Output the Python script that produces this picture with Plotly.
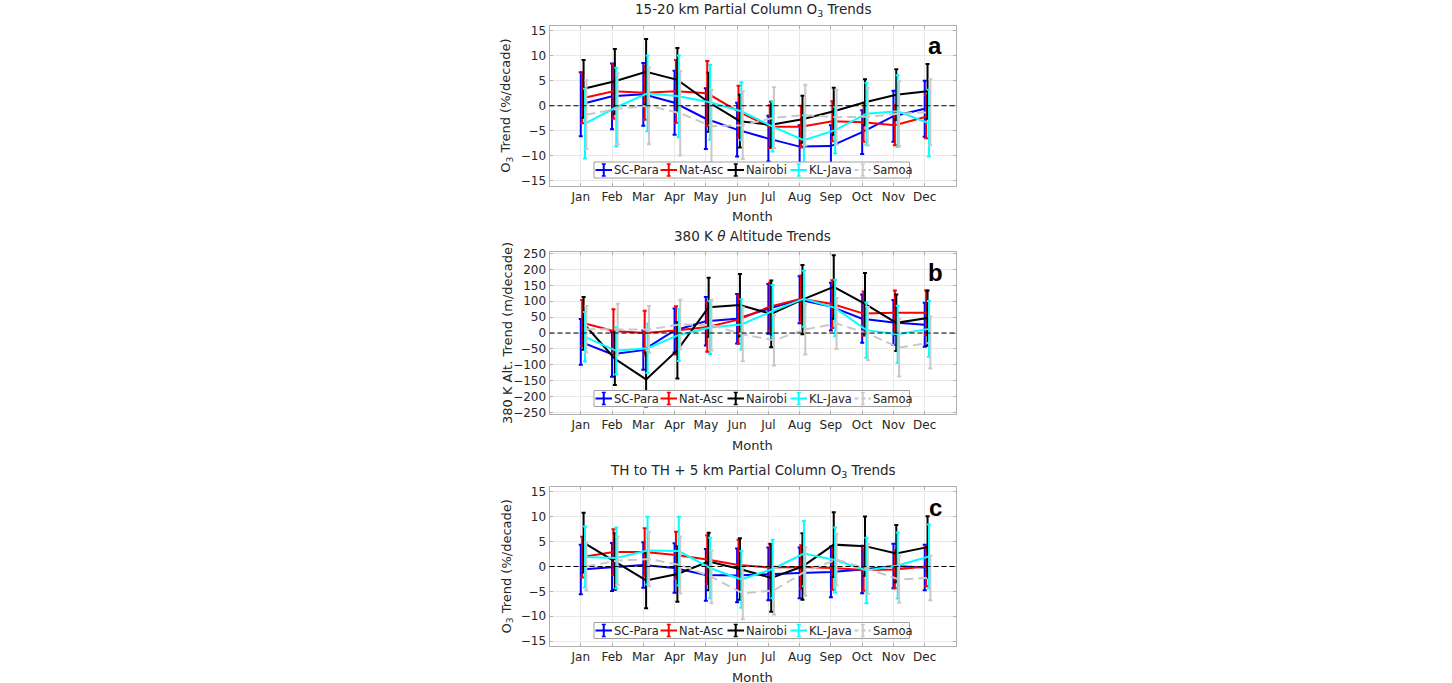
import plotly.graph_objects as go
import numpy as np

months = ["Jan", "Feb", "Mar", "Apr", "May", "Jun", "Jul", "Aug", "Sep", "Oct", "Nov", "Dec"]
stations = ["SC-Para", "Nat-Asc", "Nairobi", "KL-Java", "Samoa"]
colors = ["#0000ff", "#ff0000", "#000000", "#00ffff", "#c8c8c8"]
dashes = ["solid", "solid", "solid", "solid", "9px,5px"]

# Panel a: 15-20 km partial column O3 trends (%/decade) and error half-widths
a_scpara = [0.3, 1.9, 2.3, 0.6, -2.6, -4.8, -6.6, -8.2, -8.1, -5.3, -2.1, -0.6]
a_scpara_err = [6.4, 6.6, 6.3, 6.4, 6.1, 5.4, 4.6, 4.3, 4.2, 4.4, 5.1, 5.6]
a_natasc = [1.5, 2.9, 2.6, 2.9, 2.5, -1.2, -4.2, -4.2, -3.1, -3.3, -3.9, -2.2]
a_natasc_err = [5.0, 5.5, 5.4, 6.3, 6.5, 5.2, 4.3, 4.2, 4.0, 3.9, 4.0, 4.3]
a_nairobi = [3.4, 4.9, 6.8, 5.2, 0.7, -3.1, -3.8, -2.7, -1.1, 0.7, 2.2, 2.9]
a_nairobi_err = [5.8, 6.5, 6.6, 6.4, 5.9, 5.3, 4.6, 4.7, 4.7, 4.6, 5.1, 5.5]
a_kljava = [-3.6, -0.3, 2.5, 1.9, 0.7, -1.1, -4.2, -6.9, -4.9, -1.6, -1.1, -3.5]
a_kljava_err = [7.0, 7.9, 7.6, 8.2, 7.5, 5.8, 5.0, 5.0, 4.7, 6.2, 7.2, 6.7]
a_samoa = [-1.8, -0.6, 0.0, -1.5, -4.1, -3.9, -2.4, -1.9, -2.3, -2.2, -1.6, -1.3]
a_samoa_err = [6.9, 7.1, 7.7, 8.5, 7.3, 6.8, 6.1, 6.1, 5.5, 5.8, 6.5, 6.6]

# Panel b: 380 K theta altitude trends (m/decade)
b_scpara = [-28, -67, -54, 8, 37, 45, 76, 105, 83, 45, 33, 26]
b_scpara_err = [72, 71, 62, 69, 76, 78, 78, 74, 75, 76, 71, 69]
b_natasc = [32, 6, 0, 8, 19, 42, 83, 108, 91, 61, 64, 64]
b_natasc_err = [72, 69, 70, 76, 78, 76, 75, 73, 75, 70, 70, 70]
b_nairobi = [30, -81, -146, -54, 81, 88, 60, 105, 145, 92, 32, 47]
b_nairobi_err = [83, 83, 85, 89, 93, 98, 105, 109, 100, 97, 89, 87]
b_kljava = [-12, -56, -48, -6, 17, 27, 69, 108, 79, 9, -4, 13]
b_kljava_err = [78, 75, 78, 82, 83, 79, 82, 88, 89, 87, 90, 88]
b_samoa = [12, 11, 11, 27, 25, -4, -23, 11, 30, -2, -46, -30]
b_samoa_err = [73, 81, 74, 78, 80, 85, 79, 79, 80, 84, 91, 82]

# Panel c: TH to TH + 5 km partial column O3 trends (%/decade)
c_scpara = [-0.6, -0.1, 0.3, -0.3, -1.7, -1.8, -1.5, -1.3, -1.1, -0.6, 0.1, -0.2]
c_scpara_err = [5.0, 4.85, 4.6, 5.0, 5.2, 5.4, 5.3, 5.1, 5.1, 4.8, 4.5, 4.6]
c_natasc = [1.9, 2.9, 2.9, 2.3, 1.4, 0.3, -0.2, -0.1, -0.3, -0.7, -0.6, 0.0]
c_natasc_err = [4.1, 4.6, 4.8, 4.7, 4.9, 5.1, 4.8, 4.4, 4.4, 4.2, 3.8, 4.0]
c_nairobi = [4.8, 1.0, -2.8, -1.5, 1.0, -0.5, -2.3, 0.0, 4.4, 4.1, 2.6, 3.9]
c_nairobi_err = [6.0, 5.7, 5.6, 5.6, 5.8, 6.2, 6.8, 6.7, 6.5, 5.95, 5.75, 6.2]
c_kljava = [1.9, 1.7, 3.2, 3.1, -0.3, -2.6, -0.5, 2.6, 1.3, -0.8, 0.2, 2.0]
c_kljava_err = [6.15, 6.15, 6.8, 6.9, 6.1, 5.7, 5.9, 6.55, 6.55, 6.6, 6.65, 6.45]
c_samoa = [0.0, 1.2, 1.5, 0.3, -2.1, -5.4, -4.8, -1.0, 1.4, -0.5, -2.6, -2.3]
c_samoa_err = [4.85, 4.85, 5.5, 5.75, 5.3, 5.2, 4.85, 4.9, 5.2, 5.05, 4.7, 4.5]

titles = ["15-20 km Partial Column O<sub>3</sub> Trends",
          "380 K <i>θ</i> Altitude Trends",
          "TH to TH + 5 km Partial Column O<sub>3</sub> Trends"]
ytitles = ["O<sub>3</sub> Trend (%/decade)", "380 K Alt. Trend (m/decade)", "O<sub>3</sub> Trend (%/decade)"]
letters = ["a", "b", "c"]
station_offsets = [0.0, 0.045, 0.09, 0.135, 0.18]

panels = [
    [(a_scpara, a_scpara_err), (a_natasc, a_natasc_err), (a_nairobi, a_nairobi_err),
     (a_kljava, a_kljava_err), (a_samoa, a_samoa_err)],
    [(b_scpara, b_scpara_err), (b_natasc, b_natasc_err), (b_nairobi, b_nairobi_err),
     (b_kljava, b_kljava_err), (b_samoa, b_samoa_err)],
    [(c_scpara, c_scpara_err), (c_natasc, c_natasc_err), (c_nairobi, c_nairobi_err),
     (c_kljava, c_kljava_err), (c_samoa, c_samoa_err)],
]

W, H = 1452, 683
FONT = "DejaVu Sans"
TXT = "#262626"
px_x = lambda p: p / W
px_y = lambda p: 1 - p / H

# pixel layout of each panel (top, bottom)
panel_px = [(26, 185.5), (252, 414), (487, 646)]
x_left, x_right = 549.5, 956
yranges = [[-16, 16], [-255, 255], [-16, 16]]
yticks = [list(range(-15, 16, 5)), list(range(-250, 251, 50)), list(range(-15, 16, 5))]
leg_left, leg_right = 594, 909.5
leg_text_x = [613, 678, 745, 808, 872]

fig = go.Figure()
month_num = np.arange(1, 13)
axis_names = ["", "2", "3"]

for p in range(3):
    xa = "x" + axis_names[p]
    ya = "y" + axis_names[p]
    for s in range(5):
        vals, errs = panels[p][s]
        fig.add_trace(go.Scatter(
            x=month_num + station_offsets[s], y=vals,
            mode="lines",
            name=stations[s],
            line=dict(color=colors[s], width=2, dash=dashes[s]),
            error_y=dict(type="data", array=errs, symmetric=True,
                         color=colors[s], thickness=2, width=2),
            xaxis=xa, yaxis=ya,
            showlegend=False,
        ))

layout = dict(
    width=W, height=H,
    paper_bgcolor="white", plot_bgcolor="white",
    margin=dict(l=0, r=0, t=0, b=0, autoexpand=False),
    font=dict(family=FONT, size=12, color=TXT),
    showlegend=False,
    annotations=[], shapes=[],
)

for p in range(3):
    top, bot = panel_px[p]
    sfx = axis_names[p]
    xkey = "xaxis" + sfx
    ykey = "yaxis" + sfx
    layout[xkey] = dict(
        domain=[px_x(x_left), px_x(x_right)], range=[0, 13],
        anchor="y" + sfx,
        tickmode="array", tickvals=list(month_num), ticktext=months,
        showgrid=True, gridcolor="#e8e8e8", gridwidth=1,
        showline=True, linecolor="#b0b0b0", linewidth=1, mirror="ticks",
        ticks="inside", ticklen=3, tickcolor="#b0b0b0",
        tickfont=dict(family=FONT, size=12, color=TXT),
        zeroline=False,
    )
    layout[ykey] = dict(
        domain=[px_y(bot), px_y(top)], range=yranges[p],
        anchor="x" + sfx,
        tickmode="array", tickvals=yticks[p],
        showgrid=True, gridcolor="#e8e8e8", gridwidth=1,
        showline=True, linecolor="#b0b0b0", linewidth=1, mirror="ticks",
        ticks="inside", ticklen=3, tickcolor="#b0b0b0",
        tickfont=dict(family=FONT, size=12, color=TXT),
        zeroline=False,
    )
    layout["shapes"].append(dict(
        type="line", xref="x" + sfx + " domain", yref="y" + sfx,
        x0=0, x1=1, y0=0, y1=0,
        line=dict(color="black", width=1.2, dash="5px,3px"), layer="above",
    ))
    cx = (x_left + x_right) / 2
    layout["annotations"].append(dict(
        text=titles[p], xref="paper", yref="paper",
        x=px_x(cx), y=px_y(top - 16), xanchor="center", yanchor="middle",
        showarrow=False, font=dict(family=FONT, size=13.5, color=TXT),
    ))
    layout["annotations"].append(dict(
        text="Month", xref="paper", yref="paper",
        x=px_x(cx), y=px_y(bot + 31), xanchor="center", yanchor="middle",
        showarrow=False, font=dict(family=FONT, size=13, color=TXT),
    ))
    layout["annotations"].append(dict(
        text=ytitles[p], xref="paper", yref="paper", textangle=-90,
        x=px_x(507), y=px_y((top + bot) / 2), xanchor="center", yanchor="middle",
        showarrow=False, font=dict(family=FONT, size=13, color=TXT),
    ))
    layout["annotations"].append(dict(
        text="<b>" + letters[p] + "</b>", xref="paper", yref="paper",
        x=px_x(935), y=px_y(top + 20), xanchor="center", yanchor="middle",
        showarrow=False, font=dict(family="Liberation Sans", size=24, color="black"),
    ))

    # legend box drawn in MATLAB style (errorbar symbols)
    lt = bot - 23.5
    lb = lt + 16
    yc = (lt + lb) / 2
    layout["shapes"].append(dict(
        type="rect", xref="paper", yref="paper",
        x0=px_x(leg_left), x1=px_x(leg_right), y0=px_y(lb), y1=px_y(lt),
        fillcolor="white", line=dict(color="#a0a0a0", width=1), layer="above",
    ))
    for s in range(5):
        tx = leg_text_x[s]
        sx0, sx1 = tx - 17.5, tx - 1
        mx = (sx0 + sx1) / 2
        layout["shapes"].append(dict(
            type="line", xref="paper", yref="paper",
            x0=px_x(sx0), x1=px_x(sx1), y0=px_y(yc), y1=px_y(yc),
            line=dict(color=colors[s], width=2, dash="4px,3px" if s == 4 else "solid"),
            layer="above",
        ))
        layout["shapes"].append(dict(
            type="line", xref="paper", yref="paper",
            x0=px_x(mx), x1=px_x(mx), y0=px_y(yc - 6), y1=px_y(yc + 6),
            line=dict(color=colors[s], width=2), layer="above",
        ))
        for cy in (yc - 6, yc + 6):
            layout["shapes"].append(dict(
                type="line", xref="paper", yref="paper",
                x0=px_x(mx - 2), x1=px_x(mx + 2), y0=px_y(cy), y1=px_y(cy),
                line=dict(color=colors[s], width=1.5), layer="above",
            ))
        layout["annotations"].append(dict(
            text=stations[s], xref="paper", yref="paper",
            x=px_x(tx), y=px_y(yc), xanchor="left", yanchor="middle",
            showarrow=False, borderpad=0,
            font=dict(family=FONT, size=11.5, color=TXT),
        ))

fig.update_layout(**layout)
fig.write_html("out.html",
               config={"displayModeBar": False, "staticPlot": True},
               post_script="document.body.style.margin='0px';document.body.style.overflow='hidden';")
